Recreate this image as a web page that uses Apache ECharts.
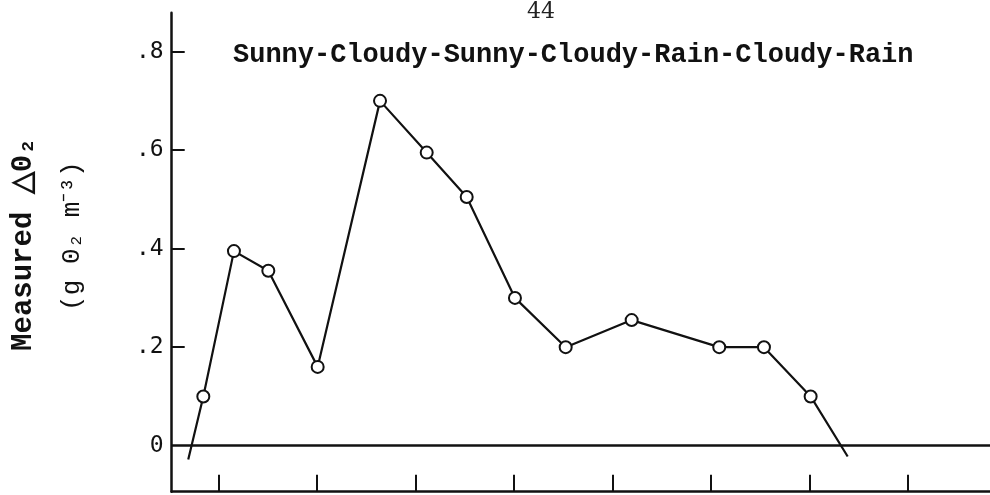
<!DOCTYPE html>
<html>
<head>
<meta charset="utf-8">
<script src="https://cdn.jsdelivr.net/npm/echarts@6/dist/echarts.min.js"></script>
<style>
html,body{margin:0;padding:0;background:#fff;}
#chart{width:990px;height:495px;}
</style>
</head>
<body>
<div id="chart"></div>
<script>
// Data (x in tick units, tick marks at 0..7)
var xValues = [-0.305, -0.152, 0.159, 0.508, 1.009, 1.642, 2.116, 2.522, 3.012, 3.527, 4.197, 5.086, 5.540, 6.014, 6.390];
var yValues = [-0.028, 0.10, 0.395, 0.355, 0.16, 0.70, 0.595, 0.505, 0.30, 0.20, 0.255, 0.20, 0.20, 0.10, -0.022];
var markerShown = [false, true, true, true, true, true, true, true, true, true, true, true, true, true, false];
var yTickValues = [0, 0.2, 0.4, 0.6, 0.8];
var yTickLabels = ['0', '.2', '.4', '.6', '.8'];
var xTickValues = [0, 1, 2, 3, 4, 5, 6, 7];
var titleText = 'Sunny-Cloudy-Sunny-Cloudy-Rain-Cloudy-Rain';
var pageNumber = '44';
var yNameLine1 = 'Measured \u25B30\u2082';
var yNameLine2 = '(g 0\u2082 m\u207B\u00B3)';

var seriesData = xValues.map(function (x, i) {
  var d = { value: [x, yValues[i]] };
  if (!markerShown[i]) { d.symbol = 'none'; }
  return d;
});

var chart = echarts.init(document.getElementById('chart'), null, { renderer: 'canvas' });
chart.setOption({
  animation: false,
  backgroundColor: '#ffffff',
  title: [
    {
      text: titleText,
      left: 228, top: 37,
      textStyle: { fontFamily: 'Liberation Mono', fontWeight: 'bold', fontSize: 27, color: '#111' }
    },
    {
      text: pageNumber,
      left: 522, top: -4,
      textStyle: { fontFamily: 'DejaVu Serif', fontWeight: 'normal', fontSize: 22, color: '#222' }
    }
  ],
  grid: { left: 171.7, right: 0, top: 12.7, bottom: 3.3, containLabel: false },
  xAxis: {
    type: 'value',
    min: -0.473, max: 7.835,
    axisLine: { show: true, onZero: false, lineStyle: { color: '#111', width: 2.5 } },
    axisTick: { show: true, inside: true, length: 17, customValues: xTickValues, lineStyle: { color: '#111', width: 2 } },
    axisLabel: { show: false },
    splitLine: { show: false }
  },
  yAxis: {
    type: 'value',
    min: -0.0934, max: 0.879,
    axisLine: { show: true, onZero: false, lineStyle: { color: '#111', width: 2.5 } },
    axisTick: { show: true, inside: true, length: 13, customValues: yTickValues.slice(1), lineStyle: { color: '#111', width: 2 } },
    axisLabel: {
      show: true, margin: 8, customValues: yTickValues,
      fontFamily: 'DejaVu Sans Mono', fontSize: 23, color: '#111',
      formatter: function (v) {
        for (var i = 0; i < yTickValues.length; i++) {
          if (Math.abs(yTickValues[i] - v) < 1e-6) return yTickLabels[i];
        }
        return '';
      }
    },
    splitLine: { show: false },
    name: '{a|' + yNameLine1 + '}\n{b|' + yNameLine2 + '}',
    nameLocation: 'middle',
    nameRotate: 90,
    nameGap: 76,
    nameTextStyle: {
      rich: {
        a: { fontFamily: 'Liberation Mono', fontWeight: 'bold', fontSize: 29, lineHeight: 48, color: '#111', padding: [0, 0, 0, 16] },
        b: { fontFamily: 'Liberation Mono', fontWeight: 'normal', fontSize: 26, lineHeight: 48, color: '#111', padding: [0, 0, 0, 32] }
      }
    }
  },
  series: [{
    type: 'line',
    data: seriesData,
    symbol: 'circle',
    symbolSize: 12,
    showSymbol: true,
    lineStyle: { color: '#111', width: 2.2 },
    itemStyle: { color: '#fff', borderColor: '#111', borderWidth: 2 },
    z: 5,
    markLine: {
      silent: true,
      symbol: ['none', 'none'],
      label: { show: false },
      lineStyle: { color: '#111', width: 2.5, type: 'solid' },
      data: [{ yAxis: 0 }]
    }
  }]
});
</script>
</body>
</html>
